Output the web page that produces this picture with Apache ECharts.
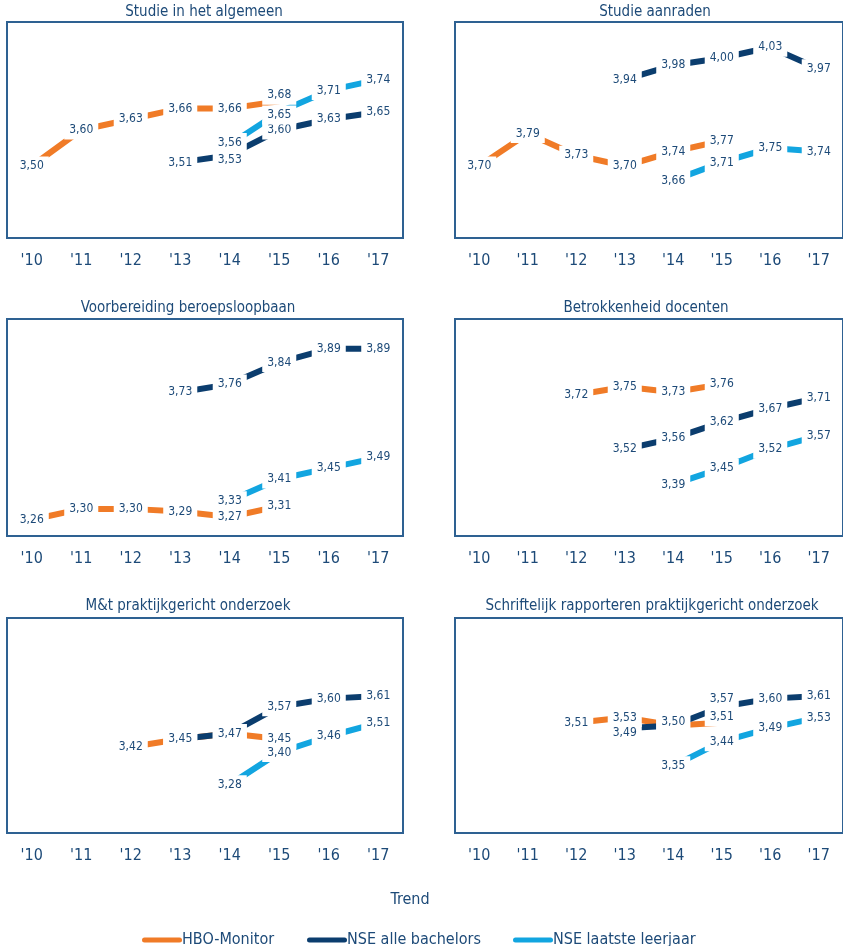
<!DOCTYPE html>
<html>
<head>
<meta charset="utf-8">
<script src="https://cdn.jsdelivr.net/npm/echarts@6/dist/echarts.min.js"></script>
<style>
html,body{margin:0;padding:0;background:#fff;}
#chart{width:843px;height:946px;}
</style>
</head>
<body>
<div id="chart"></div>
<script>
// ---- data ----
const years = ["'10", "'11", "'12", "'13", "'14", "'15", "'16", "'17"];
const seriesNames = ["HBO-Monitor", "NSE alle bachelors", "NSE laatste leerjaar"];
const panelTitles = [
  "Studie in het algemeen",
  "Studie aanraden",
  "Voorbereiding beroepsloopbaan",
  "Betrokkenheid docenten",
  "M&t praktijkgericht onderzoek",
  "Schriftelijk rapporteren praktijkgericht onderzoek"
];
// y-ranges per panel [min, max]
const yMins = [3.3, 3.5, 3.2, 3.2, 3.1, 3.1];
const yMaxs = [3.9, 4.1, 4.0, 4.0, 3.9, 3.9];

// Studie in het algemeen
const p1Hbo     = [3.50, 3.60, 3.63, 3.66, 3.66, 3.68, null, null];
const p1NseAll  = [null, null, null, 3.51, 3.53, 3.60, 3.63, 3.65];
const p1NseLast = [null, null, null, null, 3.56, 3.65, 3.71, 3.74];
// Studie aanraden
const p2Hbo     = [3.70, 3.79, 3.73, 3.70, 3.74, 3.77, null, null];
const p2NseAll  = [null, null, null, 3.94, 3.98, 4.00, 4.03, 3.97];
const p2NseLast = [null, null, null, null, 3.66, 3.71, 3.75, 3.74];
// Voorbereiding beroepsloopbaan
const p3Hbo     = [3.26, 3.30, 3.30, 3.29, 3.27, 3.31, null, null];
const p3NseAll  = [null, null, null, 3.73, 3.76, 3.84, 3.89, 3.89];
const p3NseLast = [null, null, null, null, 3.33, 3.41, 3.45, 3.49];
// Betrokkenheid docenten
const p4Hbo     = [null, null, 3.72, 3.75, 3.73, 3.76, null, null];
const p4NseAll  = [null, null, null, 3.52, 3.56, 3.62, 3.67, 3.71];
const p4NseLast = [null, null, null, null, 3.39, 3.45, 3.52, 3.57];
// M&t praktijkgericht onderzoek
const p5Hbo     = [null, null, 3.42, 3.45, 3.47, 3.45, null, null];
const p5NseAll  = [null, null, null, 3.45, 3.47, 3.57, 3.60, 3.61];
const p5NseLast = [null, null, null, null, 3.28, 3.40, 3.46, 3.51];
// Schriftelijk rapporteren praktijkgericht onderzoek
const p6Hbo     = [null, null, 3.51, 3.53, 3.50, 3.51, null, null];
const p6NseAll  = [null, null, null, 3.49, 3.50, 3.57, 3.60, 3.61];
const p6NseLast = [null, null, null, null, 3.35, 3.44, 3.49, 3.53];

const panelData = [
  [p1Hbo, p1NseAll, p1NseLast],
  [p2Hbo, p2NseAll, p2NseLast],
  [p3Hbo, p3NseAll, p3NseLast],
  [p4Hbo, p4NseAll, p4NseLast],
  [p5Hbo, p5NseAll, p5NseLast],
  [p6Hbo, p6NseAll, p6NseLast]
];

// ---- styling / layout ----
const FONT = '"DejaVu Sans Condensed","Liberation Sans Narrow",sans-serif';
const TEXT = '#1d4a78';
const BORDER = '#2e6192';
const colors = ['#f07b27', '#0b3d6e', '#12a5e0'];
const gridLefts = [7, 455, 7, 455, 7, 455];
const gridTops = [22, 22, 319, 319, 618, 618];
const gridW = 396;
const gridHs = [216, 216, 217, 217, 215, 215];
const titleX = [204, 655, 188, 646, 188, 652];
const titleY = [5, 5, 301, 301, 599, 599];
// label nudges (panel, series, category, dy in px) to keep value labels apart
const labelNudges = [
  [0, 0, 5, -6], [0, 2, 5, 3], [0, 1, 4, 5], [0, 2, 4, -2],
  [5, 0, 5, -6], [5, 1, 5, -8], [5, 1, 3, 5], [5, 0, 4, -4], [5, 1, 4, -4]
];
function nudge(p, s, c) {
  for (const n of labelNudges) if (n[0] === p && n[1] === s && n[2] === c) return n[3];
  return 0;
}

const grids = [], xAxes = [], yAxes = [], series = [], titles = [];
for (let i = 0; i < 6; i++) {
  grids.push({
    left: gridLefts[i], top: gridTops[i], width: gridW, height: gridHs[i],
    show: true, borderColor: BORDER, borderWidth: 2, backgroundColor: 'transparent'
  });
  xAxes.push({
    gridIndex: i, type: 'category', data: years, boundaryGap: true,
    axisLine: { show: false }, axisTick: { show: false },
    axisLabel: { color: TEXT, fontSize: 16, fontFamily: FONT, margin: 15 },
    splitLine: { show: false }
  });
  yAxes.push({
    gridIndex: i, type: 'value', min: yMins[i], max: yMaxs[i], show: false,
    splitLine: { show: false }
  });
  titles.push({
    text: panelTitles[i], left: titleX[i], top: titleY[i], textAlign: 'center', padding: 0,
    textStyle: { color: TEXT, fontSize: 15, fontWeight: 'normal', fontFamily: FONT }
  });
  for (let s = 0; s < 3; s++) {
    const data = panelData[i][s].map((v, c) => {
      const dy = nudge(i, s, c);
      if (v == null || dy === 0) return v;
      return { value: v, label: { offset: [0, dy] } };
    });
    series.push({
      name: seriesNames[s], type: 'line',
      xAxisIndex: i, yAxisIndex: i,
      data: data,
      connectNulls: false,
      symbol: 'circle', symbolSize: 1,
      showSymbol: true,
      itemStyle: { color: colors[s] },
      lineStyle: { color: colors[s], width: 6, cap: 'butt' },
      label: {
        show: true, position: 'inside',
        formatter: p => p.value == null ? '' : Number(p.value).toFixed(2).replace('.', ','),
        color: TEXT, fontSize: 12, fontFamily: FONT,
        backgroundColor: '#ffffff', padding: [3, 5], lineHeight: 13
      },
      emphasis: { disabled: true },
      animation: false
    });
  }
}

titles.push({
  text: 'Trend', left: 410, top: 892, textAlign: 'center', padding: 0,
  textStyle: { color: TEXT, fontSize: 16, fontWeight: 'normal', fontFamily: FONT }
});

const capsule = 'path://M2.5,0 L37.5,0 A2.5,2.5 0 0 1 37.5,5 L2.5,5 A2.5,2.5 0 0 1 2.5,0 Z';
const legendLefts = [137, 302, 508];
const legends = seriesNames.map((n, k) => ({
  data: [{ name: n, icon: capsule, itemStyle: { color: colors[k] } }],
  left: legendLefts[k], top: 927,
  itemWidth: 40, itemHeight: 5,
  textStyle: { color: TEXT, fontSize: 16, fontFamily: FONT, padding: [0, 0, 0, -5] },
  selectedMode: false
}));

const chart = echarts.init(document.getElementById('chart'), null, { renderer: 'canvas' });
chart.setOption({
  backgroundColor: '#ffffff',
  animation: false,
  title: titles,
  legend: legends,
  grid: grids,
  xAxis: xAxes,
  yAxis: yAxes,
  series: series
});
</script>
</body>
</html>
